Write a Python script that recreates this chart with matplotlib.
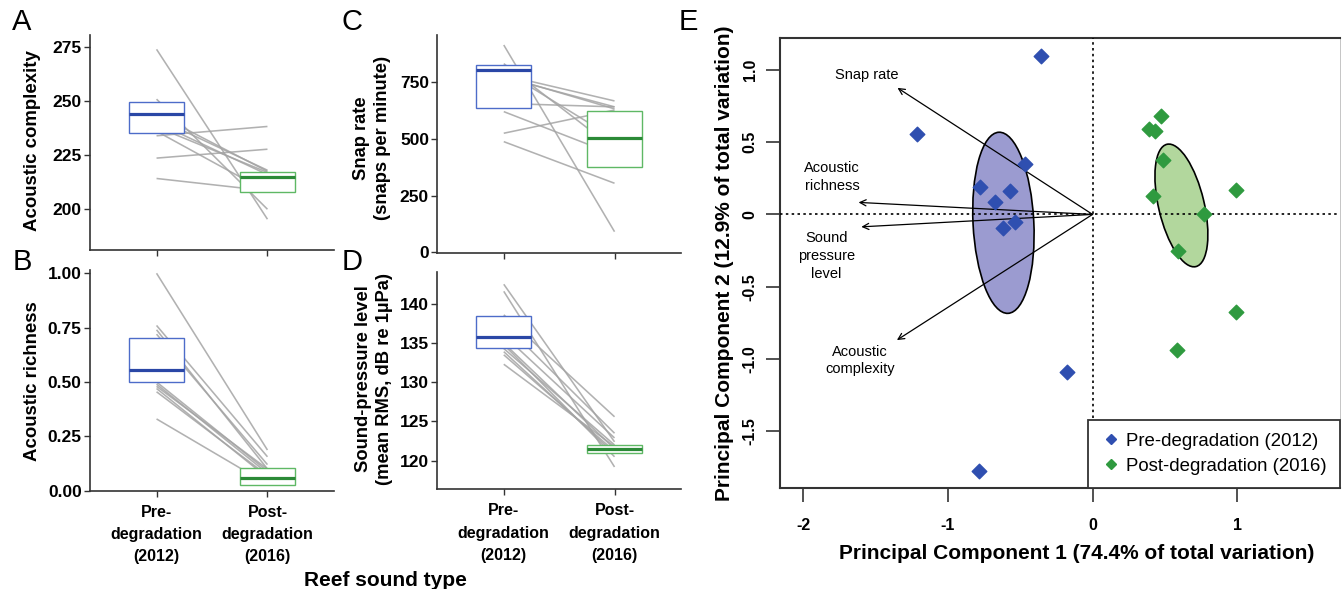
import matplotlib
matplotlib.use('Agg')
import matplotlib.pyplot as plt
from matplotlib.patches import Ellipse
from matplotlib.lines import Line2D

plt.rcParams['font.family'] = ['Liberation Sans', 'DejaVu Sans']

# ---------------- data ----------------
group_labels = ['Pre-\ndegradation\n(2012)', 'Post-\ndegradation\n(2016)']

# Panel A: acoustic complexity (paired sites)
complexity_pre = [273.8, 250.8, 244.0, 242.0, 240.0, 238.0, 236.0, 233.9, 223.6, 214.2]
complexity_post = [195.4, 200.0, 217.5, 218.0, 216.0, 217.0, 208.0, 238.2, 227.7, 208.5]
complexity_box_pre = (235.4, 243.9, 249.7)    # q1, median, q3
complexity_box_post = (207.8, 215.0, 217.0)

# Panel B: acoustic richness
richness_pre = [1.00, 0.76, 0.74, 0.72, 0.50, 0.49, 0.48, 0.47, 0.455, 0.33]
richness_post = [0.187, 0.156, 0.10, 0.12, 0.09, 0.08, 0.10, 0.06, 0.07, 0.03]
richness_box_pre = (0.50, 0.555, 0.70)
richness_box_post = (0.025, 0.06, 0.106)

# Panel C: snap rate
snap_pre = [912, 830, 780, 775, 770, 800, 655, 619, 524, 487]
snap_post = [91, 455, 666, 631, 640, 500, 640, 430, 626, 304]
snap_box_pre = (636, 801, 824)
snap_box_post = (377, 502, 622)

# Panel D: sound pressure level
spl_pre = [142.5, 141.6, 138.6, 137.5, 136.0, 135.0, 134.3, 133.9, 133.5, 132.3, 134.8]
spl_post = [122.4, 119.2, 125.6, 123.5, 122.9, 121.5, 122.0, 120.9, 121.2, 121.8, 120.5]
spl_box_pre = (134.4, 135.8, 138.4)
spl_box_post = (121.0, 121.45, 122.0)

# Panel E: PCA scores
pc1_pre = [-0.357, -1.212, -0.469, -0.781, -0.568, -0.674, -0.534, -0.621, -0.179, -0.786]
pc2_pre = [1.094, 0.554, 0.346, 0.187, 0.159, 0.085, -0.051, -0.097, -1.088, -1.776]
pc1_post = [0.473, 0.393, 0.432, 0.485, 0.421, 0.990, 0.772, 0.593, 0.990, 0.583]
pc2_post = [0.684, 0.592, 0.578, 0.377, 0.126, 0.168, 0.0, -0.254, -0.675, -0.940]

# ellipses: centre x, centre y, width, height, angle
ellipse_pre = (-0.616, -0.058, 0.42, 1.254, 2.9)
ellipse_post = (0.614, 0.062, 0.315, 0.869, 13.3)

loading_names = ['Snap rate', 'Acoustic\nrichness', 'Sound\npressure\nlevel', 'Acoustic\ncomplexity']
loading_x = [-1.348, -1.617, -1.598, -1.352]
loading_y = [0.875, 0.083, -0.086, -0.869]
loading_label_x = [-1.563, -1.80, -1.84, -1.605]
loading_label_y = [0.963, 0.258, -0.288, -1.01]

e_xticks = [-2, -1, 0, 1]
e_yticks = [1.0, 0.5, 0.0, -0.5, -1.0, -1.5]
e_yticklabels = ['1.0', '0.5', '0', '-0.5', '-1.0', '-1.5']

# ---------------- style ----------------
W, H = 1344, 589
BLUE_BOX = '#4d6cc9'
BLUE_MED = '#2a47a6'
GREEN_BOX = '#5fb865'
GREEN_MED = '#2b8a37'
BLUE_PT = '#2f4fb0'
GREEN_PT = '#2f9a3f'
LINE_GRAY = '#a4a4a4'
AX_COL = '#333333'

fig = plt.figure(figsize=(W / 100, H / 100), dpi=100)


def rect(l, r, t, b):
    return [l / W, 1 - b / H, (r - l) / W, (b - t) / H]


def paired_panel(ax, pre, post, box_pre, box_post, ylim, yticks, yticklabels, show_x):
    for a, b in zip(pre, post):
        ax.plot([1, 2], [a, b], color=LINE_GRAY, lw=1.15, alpha=0.85, zorder=1,
                solid_capstyle='butt')
    stats = []
    for q in (box_pre, box_post):
        stats.append(dict(q1=q[0], med=q[1], q3=q[2], whislo=q[0], whishi=q[2], fliers=[]))
    bp = ax.bxp(stats, positions=[1, 2], widths=0.5, showcaps=False, showfliers=False,
                patch_artist=True, manage_ticks=False, zorder=3)
    for patch, ec in zip(bp['boxes'], (BLUE_BOX, GREEN_BOX)):
        patch.set_facecolor('white')
        patch.set_edgecolor(ec)
        patch.set_linewidth(1.0)
    for med, mc in zip(bp['medians'], (BLUE_MED, GREEN_MED)):
        med.set_color(mc)
        med.set_linewidth(2.3)
        med.set_solid_capstyle('butt')
    for w in bp['whiskers']:
        w.set_visible(False)
    ax.set_xlim(0.4, 2.6)
    ax.set_ylim(*ylim)
    ax.set_yticks(yticks)
    ax.set_yticklabels(yticklabels, fontsize=12.5, fontweight='bold')
    ax.set_xticks([1, 2])
    if show_x:
        ax.set_xticklabels(group_labels, fontsize=11.5, fontweight='bold', linespacing=1.62)
    else:
        ax.set_xticklabels([])
    for s in ('top', 'right'):
        ax.spines[s].set_visible(False)
    for s in ('left', 'bottom'):
        ax.spines[s].set_color(AX_COL)
        ax.spines[s].set_linewidth(1.2)
    ax.tick_params(length=4, width=1, color=AX_COL, pad=2)
    ax.tick_params(axis='x', pad=6)


axA = fig.add_axes(rect(90, 334, 35, 250))
paired_panel(axA, complexity_pre, complexity_post, complexity_box_pre, complexity_box_post,
             (181.2, 280.4), [200, 225, 250, 275], ['200', '225', '250', '275'], False)
axB = fig.add_axes(rect(90, 334, 270, 490.7))
paired_panel(axB, richness_pre, richness_post, richness_box_pre, richness_box_post,
             (0.0, 1.015), [0, 0.25, 0.5, 0.75, 1.0], ['0.00', '0.25', '0.50', '0.75', '1.00'], True)
axC = fig.add_axes(rect(437.3, 681, 35, 253.3))
paired_panel(axC, snap_pre, snap_post, snap_box_pre, snap_box_post,
             (-4, 956), [0, 250, 500, 750], ['0', '250', '500', '750'], False)
axD = fig.add_axes(rect(437.3, 681, 271.7, 489.3))
paired_panel(axD, spl_pre, spl_post, spl_box_pre, spl_box_post,
             (116.35, 144.1), [120, 125, 130, 135, 140], ['120', '125', '130', '135', '140'], True)

# y labels
fig.text(33 / W, 1 - 141 / H, 'Acoustic complexity', rotation=90, ha='center', va='center',
         fontsize=13.4, fontweight='bold')
fig.text(33 / W, 1 - 381 / H, 'Acoustic richness', rotation=90, ha='center', va='center',
         fontsize=13.4, fontweight='bold')
fig.text(372 / W, 1 - 138 / H, 'Snap rate\n(snaps per minute)', rotation=90, ha='center',
         va='center', fontsize=13.2, fontweight='bold', linespacing=1.25)
fig.text(374 / W, 1 - 379 / H, 'Sound-pressure level\n(mean RMS, dB re 1\u00b5Pa)', rotation=90,
         ha='center', va='center', fontsize=13.2, fontweight='bold', linespacing=1.25)
fig.text(385 / W, 1 - 580 / H, 'Reef sound type', ha='center', va='center',
         fontsize=15, fontweight='bold')

# panel letters
for letter, (px, py) in zip('ABCDE', [(22, 22), (22, 262), (352, 22), (352, 262), (688, 22)]):
    fig.text(px / W, 1 - py / H, letter, ha='center', va='center', fontsize=21)

# ---------------- Panel E ----------------
axE = fig.add_axes(rect(780, 1340, 38, 487.7))
axE.set_xlim(-2.16, 1.71)
axE.set_ylim(-1.89, 1.22)

for (cx, cy, w, h, ang), fc in zip((ellipse_pre, ellipse_post), ('#9b9bd0', '#b2d79d')):
    axE.add_patch(Ellipse((cx, cy), w, h, angle=ang, facecolor=fc, edgecolor='black',
                          lw=1.2, zorder=2))

axE.axhline(0, color='black', lw=1.2, ls=(0, (1.5, 2)), zorder=3)
axE.axvline(0, color='black', lw=1.2, ls=(0, (1.5, 2)), zorder=3)

for lx, ly, tx, ty, name in zip(loading_x, loading_y, loading_label_x, loading_label_y,
                                loading_names):
    axE.annotate('', xy=(lx, ly), xytext=(0, 0),
                 arrowprops=dict(arrowstyle='->', lw=0.9, color='black',
                                 shrinkA=0, shrinkB=0, mutation_scale=11), zorder=4)
    axE.text(tx, ty, name, ha='center', va='center', fontsize=10.5, linespacing=1.35, zorder=5)

axE.scatter(pc1_pre, pc2_pre, marker='D', s=55, color=BLUE_PT, edgecolors=BLUE_PT,
            linewidths=1.0, zorder=6)
axE.scatter(pc1_post, pc2_post, marker='D', s=55, color=GREEN_PT, edgecolors=GREEN_PT,
            linewidths=1.0, zorder=6)

axE.set_xticks(e_xticks)
axE.set_xticklabels([str(v) for v in e_xticks], fontsize=11.5, fontweight='bold')
axE.set_yticks(e_yticks)
axE.set_yticklabels(e_yticklabels, fontsize=11.5, fontweight='bold', rotation=90, va='center')
axE.tick_params(axis='both', length=10, width=1.2, color=AX_COL)
axE.tick_params(axis='x', pad=12)
axE.tick_params(axis='y', pad=6)
for s in axE.spines.values():
    s.set_color(AX_COL)
    s.set_linewidth(1.5)
axE.spines['right'].set_linewidth(0.6)
axE.spines['right'].set_color('#bbbbbb')

axE.set_xlabel('Principal Component 1 (74.4% of total variation)', fontsize=15,
               fontweight='bold')
axE.xaxis.set_label_coords((1077 - 780) / 560, -(544 - 487.7) / 449.7)
axE.set_ylabel('Principal Component 2 (12.9% of total variation)', fontsize=15,
               fontweight='bold', labelpad=6)

handles = [Line2D([], [], marker='D', ls='none', color=BLUE_PT, markersize=5.5),
           Line2D([], [], marker='D', ls='none', color=GREEN_PT, markersize=5.5)]
leg = axE.legend(handles, ['Pre-degradation (2012)', 'Post-degradation (2016)'],
                 loc='lower right', borderaxespad=0, fancybox=False, framealpha=1,
                 edgecolor=AX_COL, fontsize=13.4, handlelength=1.0, handletextpad=0.35,
                 borderpad=0.7, labelspacing=0.42)
leg.get_frame().set_linewidth(1.3)
leg.set_zorder(10)

fig.savefig('out.png', dpi=100)
